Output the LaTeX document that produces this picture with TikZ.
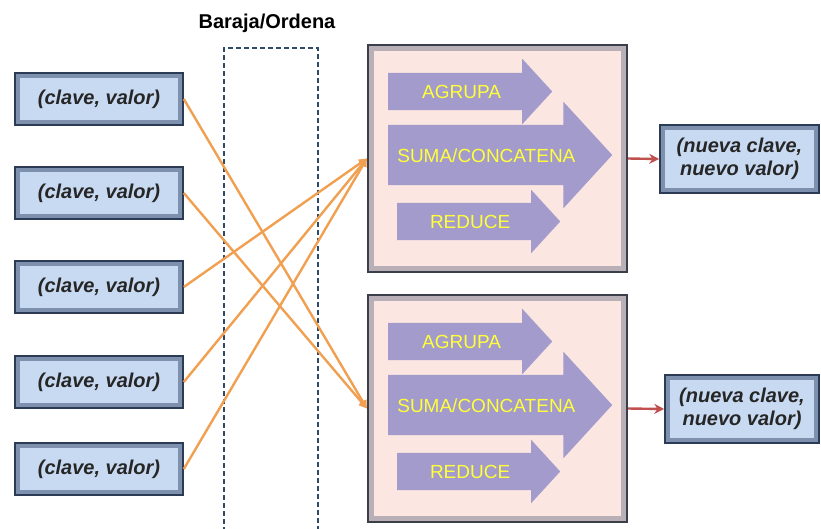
\documentclass[tikz,border=0pt]{standalone}
\usepackage{fontspec}
\setmainfont{Liberation Sans}
\usetikzlibrary{shapes.arrows,arrows.meta}
\definecolor{kvline}{HTML}{2B3A55}
\definecolor{kvedge}{HTML}{7D91AF}
\definecolor{kvface}{HTML}{C8DAF2}
\definecolor{procline}{HTML}{3A3F4A}
\definecolor{procedge}{HTML}{B8B0B6}
\definecolor{procface}{HTML}{FCE6E2}
\definecolor{pasofill}{HTML}{A29BCB}
\definecolor{pasotext}{HTML}{FFFF3C}
\definecolor{flujo}{HTML}{F0A050}
\definecolor{salida}{HTML}{C0504D}
\definecolor{baraja}{HTML}{2E4A6B}

\begin{document}
\begin{tikzpicture}[x=1pt,y=-1pt,
    kv/.style={draw=kvline, line width=1.6pt, fill=kvedge, minimum width=168pt, minimum height=52pt,
      font=\fontsize{20}{23}\selectfont\bfseries\itshape, text=black!85, align=center,
      path picture={\fill[kvface] ([shift={(5pt,-5pt)}]path picture bounding box.north west) rectangle ([shift={(-5pt,5pt)}]path picture bounding box.south east);}},
    proc/.style={draw=procline, line width=2.2pt, fill=procedge, minimum width=259pt, minimum height=227pt,
      path picture={\fill[procface] ([shift={(6pt,-6pt)}]path picture bounding box.north west) rectangle ([shift={(-6pt,6pt)}]path picture bounding box.south east);}},
    paso/.style={single arrow, fill=pasofill, text=pasotext, font=\fontsize{19}{21}\selectfont,
      text height=14pt, text depth=0pt, inner xsep=2pt, single arrow tip angle=95, anchor=tail},
    flujo/.style={draw=flujo, line width=2.4pt, -{Triangle[length=8pt,width=8pt]}},
    sale/.style={draw=salida, line width=2.4pt, -{Stealth[length=10pt,width=10pt]}}]

    \useasboundingbox (0,0) rectangle (821,528);

    % entradas
    \foreach \n/\y in {1/99,2/193,3/287,4/382,5/469}
      \node[kv] (kv\n) at (99,\y) {(clave, valor)};

    % baraja / ordena
    \node[font=\fontsize{20}{23}\selectfont\bfseries] (titulo) at (267,23) {Baraja/Ordena};
    \draw[baraja, dashed, line width=1.6pt, dash pattern=on 5pt off 3pt] (224,532) |- (318,48) -- (318,532);

    % reductores
    \node[proc] (red1) at (497.5,158.5) {};
    \node[proc] (red2) at (497.5,408.5) {};

    \foreach \r/\d in {1/0,2/250} {
      \node[paso, inner ysep=11.5pt, single arrow head extend=14pt, minimum height=164pt] (agrupa\r) at (388,91.5+\d) {AGRUPA};
      \node[paso, inner ysep=23pt, single arrow head extend=23pt, minimum height=224pt] (suma\r) at (388,155+\d) {SUMA/CONCATENA};
      \node[paso, inner ysep=11.5pt, single arrow head extend=13pt, minimum height=163pt] (reduce\r) at (397,221.5+\d) {REDUCE};
    }

    % salidas
    \node[kv, minimum width=159pt, minimum height=68pt] (out1) at (739.5,159) {(nueva clave,\\nuevo valor)};
    \node[kv, minimum width=154pt, minimum height=68pt] (out2) at (742,409) {(nueva clave,\\nuevo valor)};

    \draw[flujo] (kv1.east) -- (red2.west);
    \draw[flujo] (kv2.east) -- (red2.west);
    \draw[flujo] (kv3.east) -- (red1.west);
    \draw[flujo] (kv4.east) -- (red1.west);
    \draw[flujo] (kv5.east) -- (red1.west);

    \draw[sale] (red1.east) -- (out1.west);
    \draw[sale] (red2.east) -- (out2.west);
\end{tikzpicture}
\end{document}
